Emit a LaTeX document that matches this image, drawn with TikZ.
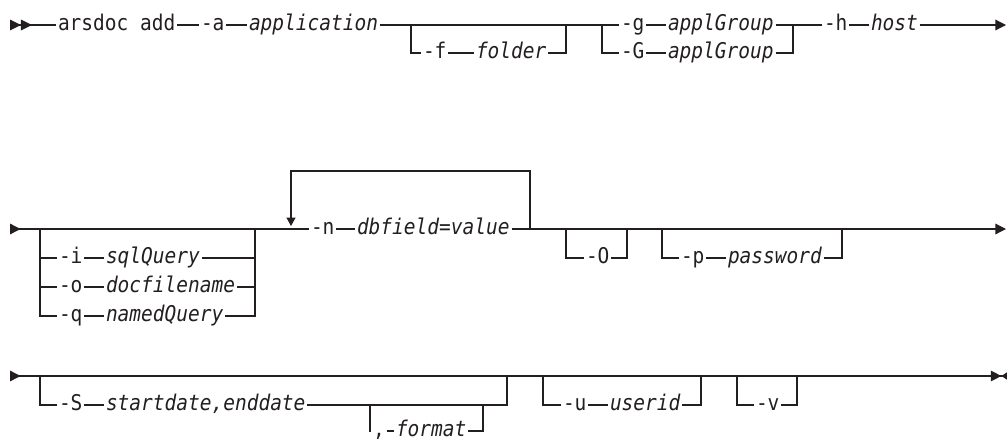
\documentclass[tikz,border=0pt]{standalone}
\usepackage{fontspec}
\setmonofont{DejaVu Sans Mono}[FakeStretch=0.9]
\usepackage{tikz}
\usetikzlibrary{arrows.meta,positioning}

\definecolor{railgray}{HTML}{231F20}
\newcommand{\railfont}{\ttfamily\fontsize{15.4}{18}\selectfont}

\begin{document}
\begin{tikzpicture}[
    x=0.025cm, y=-0.025cm,
    color=railgray, line width=0.85pt,
    kw/.style={font=\railfont, inner xsep=1pt, inner ysep=0pt, text height=10pt, text depth=1.6pt, anchor=west},
    var/.style={kw, font=\railfont\itshape},
    starttip/.style={{Triangle[reversed,length=7.5pt,width=7.5pt]}-},
    endtip/.style={-{Triangle[length=7.5pt,width=7.5pt]}},
    looptip/.style={-{Triangle[length=6pt,width=6.4pt]}}
  ]
    \useasboundingbox (0,0) rectangle (1007,442);

    % first line
    \coordinate (start1) at (10,25);
    \node[kw] (cmd) at (56,25) {arsdoc add};
    \node[kw] (opta) at (199,25) {-a};
    \node[var] (app) at (247,25) {application};
    \coordinate (fL) at (411,25);
    \node[kw] (optf) at (421,53) {-f};
    \node[var] (folder) at (474,53) {folder};
    \coordinate (fR) at (566,25);
    \coordinate (gL) at (602,25);
    \node[kw] (optg) at (619,25) {-g};
    \node[var] (grp) at (666,25) {applGroup};
    \node[kw] (optG) at (619,53) {-G};
    \node[var] (grpB) at (666,53) {applGroup};
    \coordinate (gR) at (793,25);
    \node[kw] (opth) at (822,25) {-h};
    \node[var] (host) at (869,25) {host};
    \coordinate (end1) at (1006,25);

    \draw[{Triangle[reversed,length=7.8pt,width=7.5pt]Triangle[reversed,length=7.8pt,width=7.5pt]}-] (start1) -- (cmd.west);
    \draw (cmd.east) -- (opta.west);
    \draw (opta.east) -- (app.west);
    \draw (app.east) -- (optg.west);
    \draw (fL) |- (optf.west);
    \draw (optf.east) -- (folder.west);
    \draw (folder.east) -| (fR);
    \draw (gL) |- (optG.west);
    \draw (optG.east) -- (grpB.west);
    \draw (grpB.east) -| (gR);
    \draw (optg.east) -- (grp.west);
    \draw (grp.east) -- (opth.west);
    \draw (opth.east) -- (host.west);
    \draw[endtip] (host.east) -- (end1);

    % second line
    \coordinate (start2) at (10,229);
    \coordinate (cL) at (40,229);
    \node[kw] (opti) at (57,258) {-i};
    \node[var] (sql) at (104,258) {sqlQuery};
    \node[kw] (opto) at (57,287) {-o};
    \node[var] (docf) at (104,287) {docfilename};
    \node[kw] (optq) at (57,316) {-q};
    \node[var] (named) at (104,316) {namedQuery};
    \coordinate (cR) at (255,229);
    \coordinate (loopL) at (291,229);
    \coordinate (loopA) at (291,226);
    \coordinate (loopTL) at (291,171);
    \node[kw] (optn) at (309,229) {-n};
    \node[var] (dbf) at (355,229) {dbfield=value};
    \coordinate (loopR) at (530,229);
    \coordinate (loopTR) at (530,171);
    \coordinate (oL) at (566,229);
    \node[kw] (optO) at (584,258) {-O};
    \coordinate (oR) at (627,229);
    \coordinate (pL) at (662,229);
    \node[kw] (optp) at (679,258) {-p};
    \node[var] (pwd) at (726,258) {password};
    \coordinate (pR) at (842,229);
    \coordinate (end2) at (1006,229);

    \draw[starttip] (start2) -- (cL) -- (cR) -- (optn.west);
    \draw (cL) |- (opti.west);
    \draw (cL) |- (opto.west);
    \draw (cL) |- (optq.west);
    \draw (opti.east) -- (sql.west);
    \draw (opto.east) -- (docf.west);
    \draw (optq.east) -- (named.west);
    \draw (sql.east) -| (cR);
    \draw (docf.east) -| (cR);
    \draw (named.east) -| (cR);
    \draw (optn.east) -- (dbf.west);
    \draw[looptip] (loopR) -- (loopTR) -- (loopTL) -- (loopA);
    \draw[endtip] (dbf.east) -- (end2);
    \draw (oL) |- (optO.west);
    \draw (optO.east) -| (oR);
    \draw (pL) |- (optp.west);
    \draw (optp.east) -- (pwd.west);
    \draw (pwd.east) -| (pR);

    % third line
    \coordinate (start3) at (10,376);
    \coordinate (sL) at (40,376);
    \node[kw] (optS) at (57,405) {-S};
    \node[var] (dates) at (104,405) {startdate,enddate};
    \coordinate (fmL) at (370,405);
    \node[kw] (comma) at (371,431) {,};
    \node[var] (fmt) at (394,431) {format};
    \coordinate (fmR) at (483,405);
    \coordinate (sR) at (507,376);
    \coordinate (uL) at (543,376);
    \node[kw] (optu) at (561,405) {-u};
    \node[var] (uid) at (608,405) {userid};
    \coordinate (uR) at (701,376);
    \coordinate (vL) at (737,376);
    \node[kw] (optv) at (754,405) {-v};
    \coordinate (vR) at (797,376);
    \coordinate (end3) at (1007,376);

    \draw[{Triangle[reversed,length=7.5pt,width=7.5pt]}-{Triangle[length=7.5pt,width=7.5pt]Triangle[reversed,length=4pt,width=5pt]}] (start3) -- (end3);
    \draw (sL) |- (optS.west);
    \draw (optS.east) -- (dates.west);
    \draw (dates.east) -| (sR);
    \draw (fmL) |- (comma.west);
    \draw (comma.east) -- (fmt.west);
    \draw (fmt.east) -| (fmR);
    \draw (uL) |- (optu.west);
    \draw (optu.east) -- (uid.west);
    \draw (uid.east) -| (uR);
    \draw (vL) |- (optv.west);
    \draw (optv.east) -| (vR);
  \end{tikzpicture}
\end{document}
